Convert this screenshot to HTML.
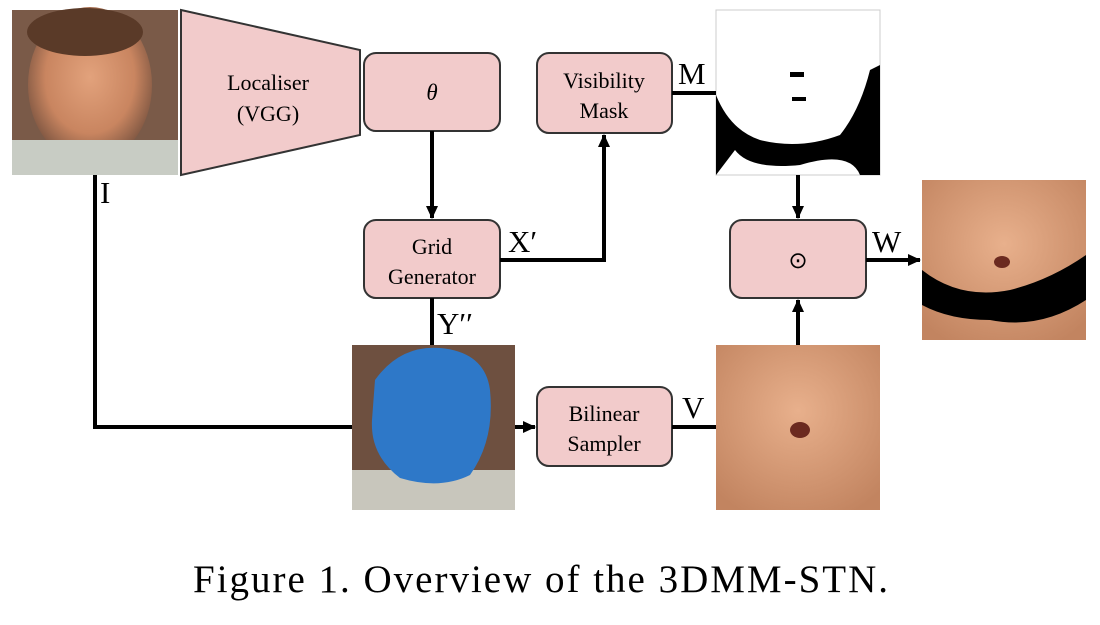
<!DOCTYPE html>
<html><head><meta charset="utf-8"><style>
body{margin:0;background:#fff;width:1100px;height:620px;overflow:hidden}
text{font-family:"Liberation Serif",serif}
</style></head><body>
<svg width="1100" height="620" viewBox="0 0 1100 620" xmlns="http://www.w3.org/2000/svg">
<defs>
<marker id="a" markerWidth="14" markerHeight="14" refX="12" refY="6" orient="auto" markerUnits="userSpaceOnUse"><path d="M0,0 L13,6 L0,12 z" fill="#000"/></marker>
<radialGradient id="face" cx="0.5" cy="0.45" r="0.6"><stop offset="0" stop-color="#e2a27c"/><stop offset="0.6" stop-color="#c98560"/><stop offset="1" stop-color="#6b4a3a"/></radialGradient>
<radialGradient id="warp" cx="0.5" cy="0.4" r="0.7"><stop offset="0" stop-color="#e8b08c"/><stop offset="1" stop-color="#c28460"/></radialGradient>
</defs>
<rect x="12" y="10" width="166" height="165" fill="#7a5a48"/>
<ellipse cx="90" cy="85" rx="62" ry="78" fill="url(#face)"/>
<rect x="12" y="140" width="166" height="35" fill="#c8ccc4"/>
<ellipse cx="85" cy="32" rx="58" ry="24" fill="#5a3a28"/>
<polygon points="181,10 360,50 360,135 181,175" fill="#f2cbcb" stroke="#333" stroke-width="2"/>
<text x="268" y="90" font-size="22" text-anchor="middle">Localiser</text>
<text x="268" y="121" font-size="22" text-anchor="middle">(VGG)</text>
<g fill="#f2cbcb" stroke="#333" stroke-width="2">
<rect x="364" y="53" width="136" height="78" rx="12"/>
<rect x="537" y="53" width="135" height="80" rx="12"/>
<rect x="364" y="220" width="136" height="78" rx="12"/>
<rect x="730" y="220" width="136" height="78" rx="12"/>
<rect x="537" y="387" width="135" height="79" rx="12"/>
</g>
<text x="432" y="100" font-size="23" font-style="italic" text-anchor="middle">θ</text>
<text x="604" y="88" font-size="22" text-anchor="middle">Visibility</text>
<text x="604" y="118" font-size="22" text-anchor="middle">Mask</text>
<text x="432" y="254" font-size="22" text-anchor="middle">Grid</text>
<text x="432" y="284" font-size="22" text-anchor="middle">Generator</text>
<text x="798" y="268" font-size="23" text-anchor="middle">⊙</text>
<text x="604" y="421" font-size="22" text-anchor="middle">Bilinear</text>
<text x="604" y="451" font-size="22" text-anchor="middle">Sampler</text>
<rect x="716" y="10" width="164" height="165" fill="#fff" stroke="#ccc"/>
<path d="M716,95 Q730,130 760,140 Q800,150 840,135 Q860,110 870,70 L880,65 L880,175 L860,175 Q850,150 800,165 Q750,170 735,150 L716,175 Z" fill="#000"/>
<rect x="790" y="72" width="14" height="5" fill="#000"/><rect x="792" y="97" width="14" height="4" fill="#000"/>
<rect x="922" y="180" width="164" height="160" fill="url(#warp)"/>
<path d="M922,270 Q960,300 1010,290 Q1050,280 1086,255 L1086,300 Q1040,330 990,320 Q950,320 922,305 Z" fill="#000"/>
<ellipse cx="1002" cy="262" rx="8" ry="6" fill="#6b2a20"/>
<rect x="352" y="345" width="163" height="165" fill="#6e5040"/>
<rect x="352" y="470" width="163" height="40" fill="#c8c6bc"/>
<path d="M375,380 Q400,345 440,348 Q485,352 490,390 Q495,440 470,475 Q440,490 400,478 Q370,455 372,420 Z" fill="#2e78c8"/>
<rect x="716" y="345" width="164" height="165" fill="url(#warp)"/>
<ellipse cx="800" cy="430" rx="10" ry="8" fill="#6b2a20"/>
<g stroke="#000" stroke-width="4" fill="none">
<line x1="432" y1="131" x2="432" y2="218" marker-end="url(#a)"/>
<polyline points="500,260 604,260 604,135" marker-end="url(#a)"/>
<line x1="672" y1="93" x2="716" y2="93"/>
<line x1="798" y1="175" x2="798" y2="218" marker-end="url(#a)"/>
<line x1="866" y1="260" x2="920" y2="260" marker-end="url(#a)"/>
<line x1="432" y1="298" x2="432" y2="345"/>
<polyline points="95,175 95,427 352,427"/>
<line x1="515" y1="427" x2="535" y2="427" marker-end="url(#a)"/>
<line x1="672" y1="427" x2="716" y2="427"/>
<line x1="798" y1="345" x2="798" y2="300" marker-end="url(#a)"/>
</g>
<g font-size="31">
<text x="100" y="203">I</text>
<text x="678" y="84">M</text>
<text x="508" y="252">X′</text>
<text x="872" y="252">W</text>
<text x="437" y="334">Y′′</text>
<text x="682" y="418">V</text>
</g>
<text x="193" y="592" font-size="39" textLength="695" lengthAdjust="spacing">Figure 1. Overview of the 3DMM-STN.</text>
</svg>
</body></html>
